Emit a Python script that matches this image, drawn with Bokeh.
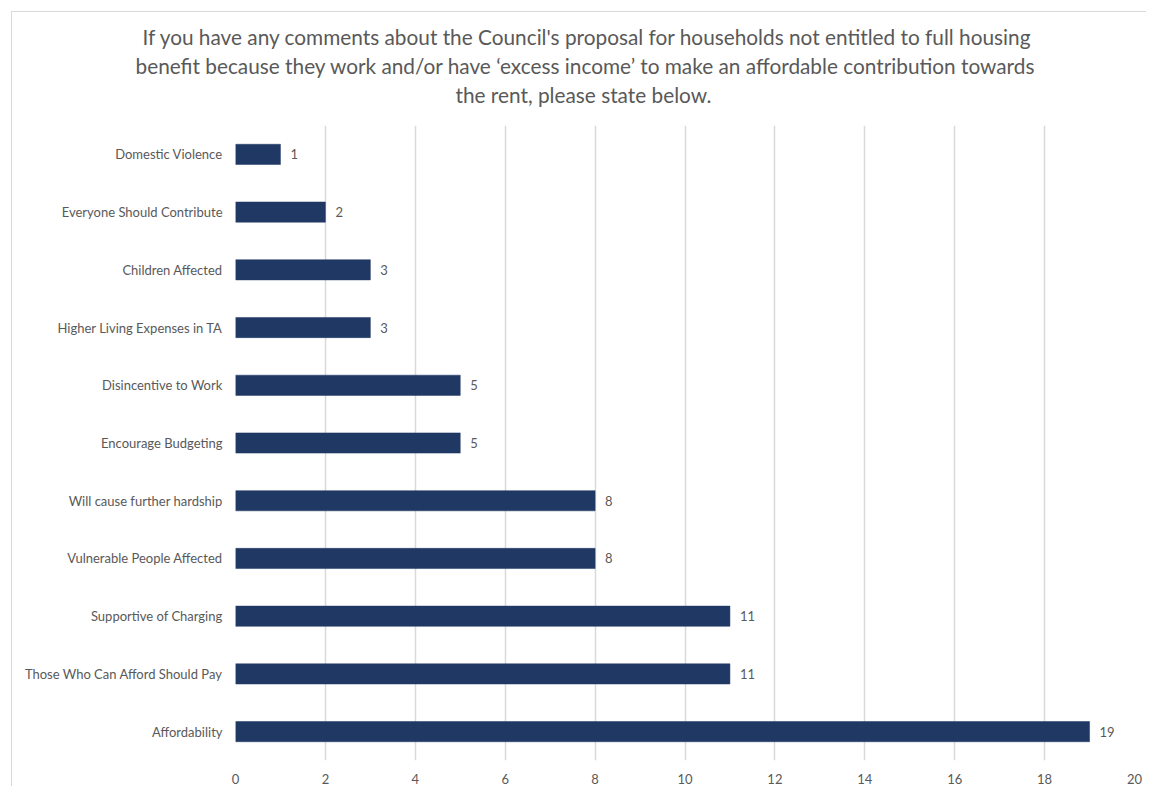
from bokeh.plotting import figure
from bokeh.models import FactorRange, Range1d, ColumnDataSource, Title, FixedTicker, LabelSet
from bokeh.core.properties import value
from bokeh.embed import file_html
from bokeh.resources import INLINE

categories = [
    "Domestic Violence",
    "Everyone Should Contribute",
    "Children Affected",
    "Higher Living Expenses in TA",
    "Disincentive to Work",
    "Encourage Budgeting",
    "Will cause further hardship",
    "Vulnerable People Affected",
    "Supportive of Charging",
    "Those Who Can Afford Should Pay",
    "Affordability",
]
counts = [1, 2, 3, 3, 5, 5, 8, 8, 11, 11, 19]
x_ticks = [0, 2, 4, 6, 8, 10, 12, 14, 16, 18, 20]
title_lines = [
    "If you have any comments about the Council's proposal for households not entitled to full housing",
    "benefit because they work and/or have \u2018excess income\u2019 to make an affordable contribution towards",
    "the rent, please state below.",
]
title_offsets = [-93, -100, 220]

FONT = "Lato"
TXT = "#595959"
BAR = "#203864"

W, H = 1149, 789
M = 12  # outer margin holding the chart-area border
p = figure(
    width=W - M - 2, height=H - M - 2, title=None,
    y_range=FactorRange(factors=list(reversed(categories)), range_padding=0),
    x_range=Range1d(0, 20),
    output_backend="svg", toolbar_location=None,
    min_border_left=235 - M, min_border_right=13, min_border_top=125 - M, min_border_bottom=27,
)
p.styles = {"margin-left": "11px", "margin-top": "11px",
            "border-left": "1px solid #d9d9d9", "border-top": "1px solid #d9d9d9"}
p.outline_line_color = None
p.background_fill_color = "white"
p.border_fill_color = "white"

src = ColumnDataSource(dict(cat=categories, val=counts, lab=[str(v) for v in counts]))
p.hbar(y="cat", right="val", left=0, height=0.35, source=src,
       fill_color=BAR, line_color=BAR, line_width=0.5)

labels = LabelSet(x="val", y="cat", text="lab", source=src, x_offset=10,
                  text_baseline="middle", text_align="left",
                  text_font=value(FONT), text_font_size="13px", text_color=TXT)
p.add_layout(labels)

p.xaxis.ticker = FixedTicker(ticks=x_ticks)
p.xaxis.axis_line_color = None
p.xaxis.major_tick_line_color = None
p.xaxis.minor_tick_line_color = None
p.xaxis.major_label_text_font = FONT
p.xaxis.major_label_text_font_size = "13px"
p.xaxis.major_label_text_color = TXT
p.xaxis.major_label_standoff = 7

p.yaxis.axis_line_color = None
p.yaxis.major_tick_line_color = None
p.yaxis.minor_tick_line_color = None
p.yaxis.major_label_text_font = FONT
p.yaxis.major_label_text_font_size = "13px"
p.yaxis.major_label_text_color = TXT
p.yaxis.major_label_standoff = 7

p.ygrid.grid_line_color = None
p.xgrid.ticker = FixedTicker(ticks=x_ticks)
p.xgrid.grid_line_color = "#d9d9d9"
p.xgrid.grid_line_width = 1.5

# title lines: spacer nearest the plot, then lines from bottom to top
p.add_layout(Title(text=" ", text_font_size="14px", standoff=0), "above")
for t, off in reversed(list(zip(title_lines, title_offsets))):
    p.add_layout(Title(text=t, align="left", offset=off, standoff=2,
                       text_font=FONT, text_font_size="20.8px", text_font_style="normal",
                       text_color=TXT), "above")

open("out.html", "w").write(file_html(p, INLINE))
